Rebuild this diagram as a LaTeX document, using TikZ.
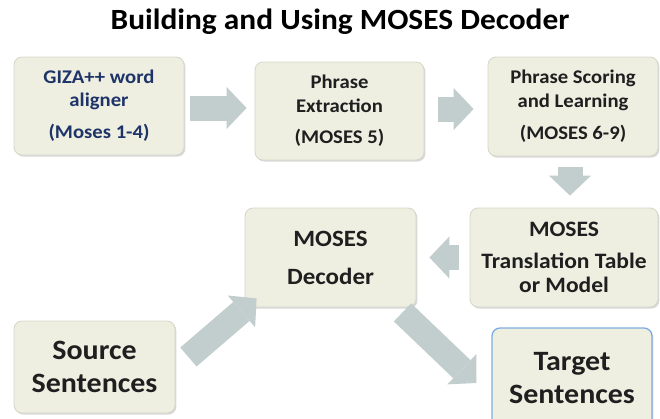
\documentclass[tikz,border=0pt]{standalone}
\usepackage{fontspec}
\setmainfont{Carlito}[FakeStretch=1.07]
\usetikzlibrary{arrows.meta,calc,shadows}

\definecolor{boxfill}{RGB}{238,239,225}
\definecolor{boxline}{RGB}{212,214,198}
\definecolor{arrowgray}{RGB}{194,205,205}
\definecolor{gizablue}{RGB}{30,52,104}
\definecolor{targetblue}{RGB}{125,172,225}

\tikzset{
	stepbox/.style={draw=boxline, line width=0.6pt, fill=boxfill, rounded corners=6pt,
		align=center, text=black!88, inner sep=0pt,
		drop shadow={shadow xshift=1pt, shadow yshift=-1.2pt, opacity=0.3}},
	blockarrow/.style={draw=arrowgray, line width=18.75pt,
		-{Triangle[length=15pt, width=31.5pt, line width=0pt]}}}
\tikzset{every picture/.style={line width=0.75pt}}

\begin{document}
\begin{tikzpicture}[x=0.75pt,y=0.75pt,yscale=-1,xscale=1]
	\useasboundingbox (0,0) rectangle (660,418);
	\clip (0,0) rectangle (660,418);

	% Title
	\node (title) at (340,22) {\fontsize{22}{26}\selectfont\bfseries Building and Using MOSES Decoder};

	% Boxes
	\node[stepbox, minimum width=127.5pt, minimum height=73.5pt, text=gizablue,
		font=\fontsize{14.5}{17.5}\selectfont\bfseries] (giza) at (99,106)
		{GIZA++ word\\aligner\\[6.5pt](Moses 1-4)};
	\node[stepbox, minimum width=126.75pt, minimum height=73.5pt,
		font=\fontsize{14.5}{18}\selectfont\bfseries] (extract) at (339.5,111)
		{Phrase\\Extraction\\[5pt](MOSES 5)};
	\node[stepbox, minimum width=127.5pt, minimum height=74.25pt,
		font=\fontsize{14.5}{18}\selectfont\bfseries] (scoring) at (573,106.5)
		{Phrase Scoring\\and Learning\\[6pt](MOSES 6-9)};
	\node[stepbox, minimum width=141pt, minimum height=74.25pt,
		font=\fontsize{16.5}{18}\selectfont\bfseries] (table) at (564,257.5)
		{MOSES\\[6pt]Translation Table\\or Model};
	\node[stepbox, minimum width=128.25pt, minimum height=74.25pt,
		font=\fontsize{17.5}{28.5}\selectfont\bfseries] (decoder) at (330.5,257.5)
		{MOSES\\Decoder};
	\node[stepbox, minimum width=120.75pt, minimum height=69pt,
		font=\fontsize{21}{25}\selectfont\bfseries] (source) at (94.5,367)
		{Source\\Sentences};
	\node[stepbox, draw=targetblue, line width=1pt, minimum width=120pt, minimum height=75pt,
		font=\fontsize{21}{25}\selectfont\bfseries] (target) at (572,378)
		{Target\\Sentences};

	% Arrows
	\draw[blockarrow] ($(giza.east)+(6,2)$) -- ($(extract.west)+(-8,-3)$);
	\draw[blockarrow] ($(extract.east)+(14,-2)$) -- ($(scoring.west)+(-14,2.5)$);
	\draw[blockarrow] ($(scoring.south)+(-3,11)$) -- ($(table.north)+(6,-12)$);
	\draw[blockarrow] ($(table.west)+(-11,0)$) -- ($(decoder.east)+(13,0)$);
	\draw[blockarrow] ($(source.east)+(13,-10)$) -- ($(decoder.south west)+(12,-9)$);
	\draw[blockarrow] ($(decoder.south)+(72,5)$) -- ($(target.west)+(-15,5)$);

\end{tikzpicture}
\end{document}
